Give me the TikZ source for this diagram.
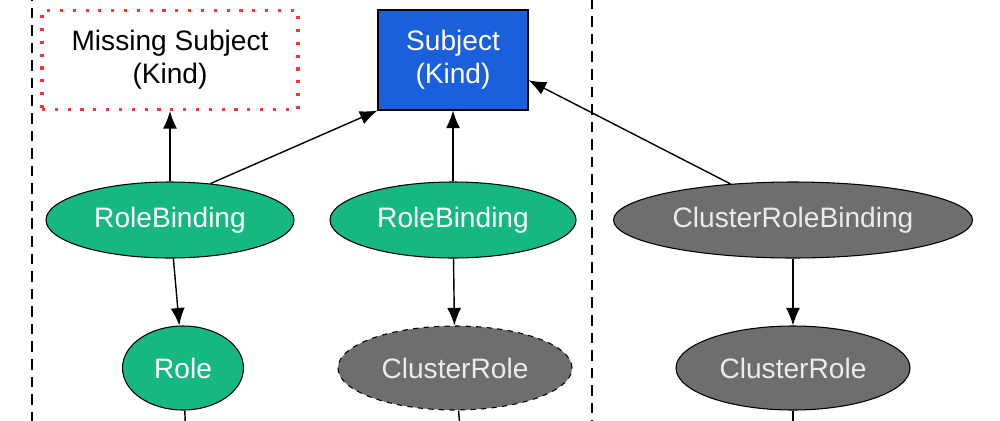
\documentclass[tikz,border=0pt]{standalone}
\usepackage{fontspec}
\setmainfont{Liberation Sans}
\usetikzlibrary{shapes.geometric,arrows.meta}
\definecolor{rbgreen}{HTML}{15B87E}
\definecolor{crgrey}{HTML}{6E6E6E}
\definecolor{subjblue}{HTML}{1A5FDB}
\tikzset{
  kind/.style={draw, semithick, rectangle, align=center, inner sep=0pt},
  binding/.style={draw, semithick, ellipse, inner sep=0pt, fill=rbgreen, text=white},
  cluster/.style={draw, semithick, ellipse, inner sep=0pt, fill=crgrey, text=white!92!black},
  edge/.style={-{Latex[length=10pt,width=8pt]}, thick}
}
\begin{document}
\begin{tikzpicture}[x=0.02cm, y=-0.02cm, font=\fontsize{16}{19}\selectfont]
\useasboundingbox (0,0) rectangle (1000,420);
% namespace frame
\draw[thick, dash pattern=on 6pt off 4pt] (32,-10) rectangle (592,440);
% subjects
\node[kind, draw=red!80, line width=1.8pt, dash pattern=on 1.8pt off 5.5pt, minimum width=256*0.02cm, minimum height=99*0.02cm] (missing) at (170,60) {Missing Subject\\(Kind)};
\node[kind, fill=subjblue, text=white, minimum width=150*0.02cm, minimum height=100*0.02cm] (subject) at (453,60) {Subject\\(Kind)};
% bindings
\node[binding, minimum width=248*0.02cm, minimum height=76*0.02cm] (rb1) at (170,220) {RoleBinding};
\node[binding, minimum width=246*0.02cm, minimum height=76*0.02cm] (rb2) at (453,220) {RoleBinding};
\node[cluster, minimum width=359*0.02cm, minimum height=76*0.02cm] (crb) at (793,220) {ClusterRoleBinding};
% roles
\node[binding, minimum width=121*0.02cm, minimum height=84*0.02cm] (role) at (183,368) {Role};
\node[cluster, dashed, minimum width=234*0.02cm, minimum height=84*0.02cm] (cr1) at (455,368) {ClusterRole};
\node[cluster, minimum width=234*0.02cm, minimum height=84*0.02cm] (cr2) at (793,368) {ClusterRole};
\coordinate (out1) at (186,440);
\coordinate (out2) at (461,440);
\coordinate (out3) at (793,440);
% edges
\draw[edge] (rb1) -- (missing);
\draw[edge] (rb1.42) -- (subject.south west);
\draw[edge] (rb2) -- (subject);
\draw[edge] (crb.150) -- (subject.-15);
\draw[edge] (rb1) -- (role);
\draw[edge] (rb2) -- (cr1);
\draw[edge] (crb) -- (cr2);
\draw[thick] (role) -- (out1);
\draw[thick] (cr1) -- (out2);
\draw[thick] (cr2) -- (out3);
\end{tikzpicture}
\end{document}
